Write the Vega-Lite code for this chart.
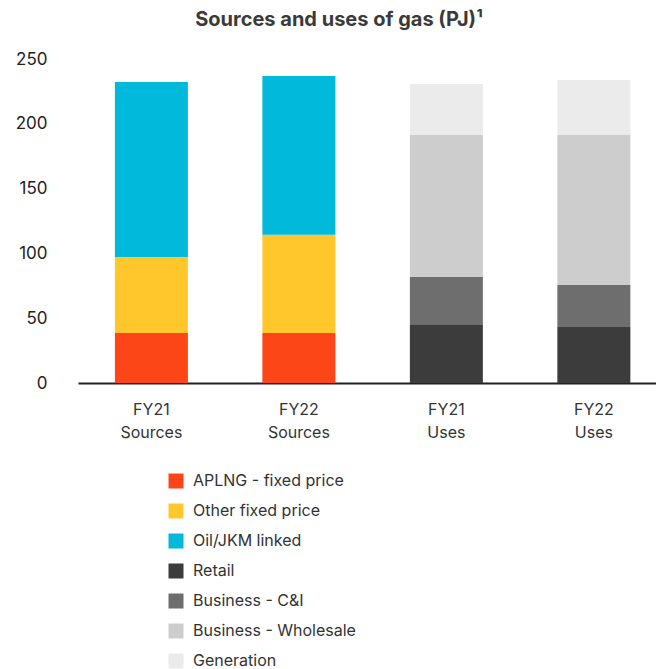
{
  "$schema": "https://vega.github.io/schema/vega-lite/v6.json",
  "autosize": {"type": "none"},
  "padding": {"left": 78, "top": 59, "right": 0, "bottom": 286},
  "width": 578,
  "height": 324,
  "background": "white",
  "title": {
    "text": "Sources and uses of gas (PJ)¹",
    "font": "Inter",
    "fontSize": 20,
    "fontWeight": "bold",
    "color": "#3a3a3a",
    "anchor": "middle",
    "dx": -28,
    "offset": 20
  },
  "data": {
    "values": [
      {"bar": "FY21 Sources", "category": "APLNG - fixed price", "pj": 38.6},
      {"bar": "FY21 Sources", "category": "Other fixed price", "pj": 58.6},
      {"bar": "FY21 Sources", "category": "Oil/JKM linked", "pj": 135.1},
      {"bar": "FY22 Sources", "category": "APLNG - fixed price", "pj": 38.6},
      {"bar": "FY22 Sources", "category": "Other fixed price", "pj": 75.8},
      {"bar": "FY22 Sources", "category": "Oil/JKM linked", "pj": 122.5},
      {"bar": "FY21 Uses", "category": "Retail", "pj": 44.8},
      {"bar": "FY21 Uses", "category": "Business - C&I", "pj": 37.0},
      {"bar": "FY21 Uses", "category": "Business - Wholesale", "pj": 109.6},
      {"bar": "FY21 Uses", "category": "Generation", "pj": 39.3},
      {"bar": "FY22 Uses", "category": "Retail", "pj": 43.2},
      {"bar": "FY22 Uses", "category": "Business - C&I", "pj": 32.4},
      {"bar": "FY22 Uses", "category": "Business - Wholesale", "pj": 115.8},
      {"bar": "FY22 Uses", "category": "Generation", "pj": 42.4}
    ]
  },
  "mark": {"type": "bar"},
  "encoding": {
    "x": {
      "field": "bar",
      "type": "nominal",
      "sort": ["FY21 Sources", "FY22 Sources", "FY21 Uses", "FY22 Uses"],
      "scale": {"paddingInner": 0.505, "paddingOuter": 0.212, "align": 0.59},
      "axis": {
        "title": null,
        "labelAngle": 0,
        "labelExpr": "split(datum.label, ' ')",
        "labelFont": "Inter",
        "labelFontSize": 16,
        "labelColor": "#333",
        "labelLineHeight": 23,
        "labelPadding": 18,
        "ticks": false,
        "domainColor": "#222",
        "domainWidth": 2
      }
    },
    "y": {
      "field": "pj",
      "type": "quantitative",
      "stack": "zero",
      "scale": {"domain": [0, 250], "nice": false},
      "axis": {
        "title": null,
        "values": [0, 50, 100, 150, 200, 250],
        "grid": false,
        "domain": false,
        "ticks": false,
        "labelFont": "Inter",
        "labelFontSize": 17,
        "labelColor": "#222",
        "labelPadding": 31
      }
    },
    "color": {
      "field": "category",
      "type": "nominal",
      "sort": ["APLNG - fixed price", "Other fixed price", "Oil/JKM linked", "Retail", "Business - C&I", "Business - Wholesale", "Generation"],
      "scale": {
        "domain": ["APLNG - fixed price", "Other fixed price", "Oil/JKM linked", "Retail", "Business - C&I", "Business - Wholesale", "Generation"],
        "range": ["#FC4618", "#FFC72C", "#00B9DB", "#3C3C3C", "#6E6E6E", "#CDCDCD", "#EBEBEB"]
      },
      "legend": {
        "title": null,
        "orient": "none",
        "legendX": 90,
        "legendY": 414,
        "direction": "vertical",
        "symbolType": "square",
        "symbolSize": 225,
        "symbolStrokeWidth": 0,
        "labelFont": "Inter",
        "labelFontSize": 16,
        "labelColor": "#333",
        "labelOffset": 9,
        "labelLimit": 300,
        "rowPadding": 14
      }
    },
    "order": {"field": "bar"}
  },
  "config": {"view": {"stroke": null}}
}
